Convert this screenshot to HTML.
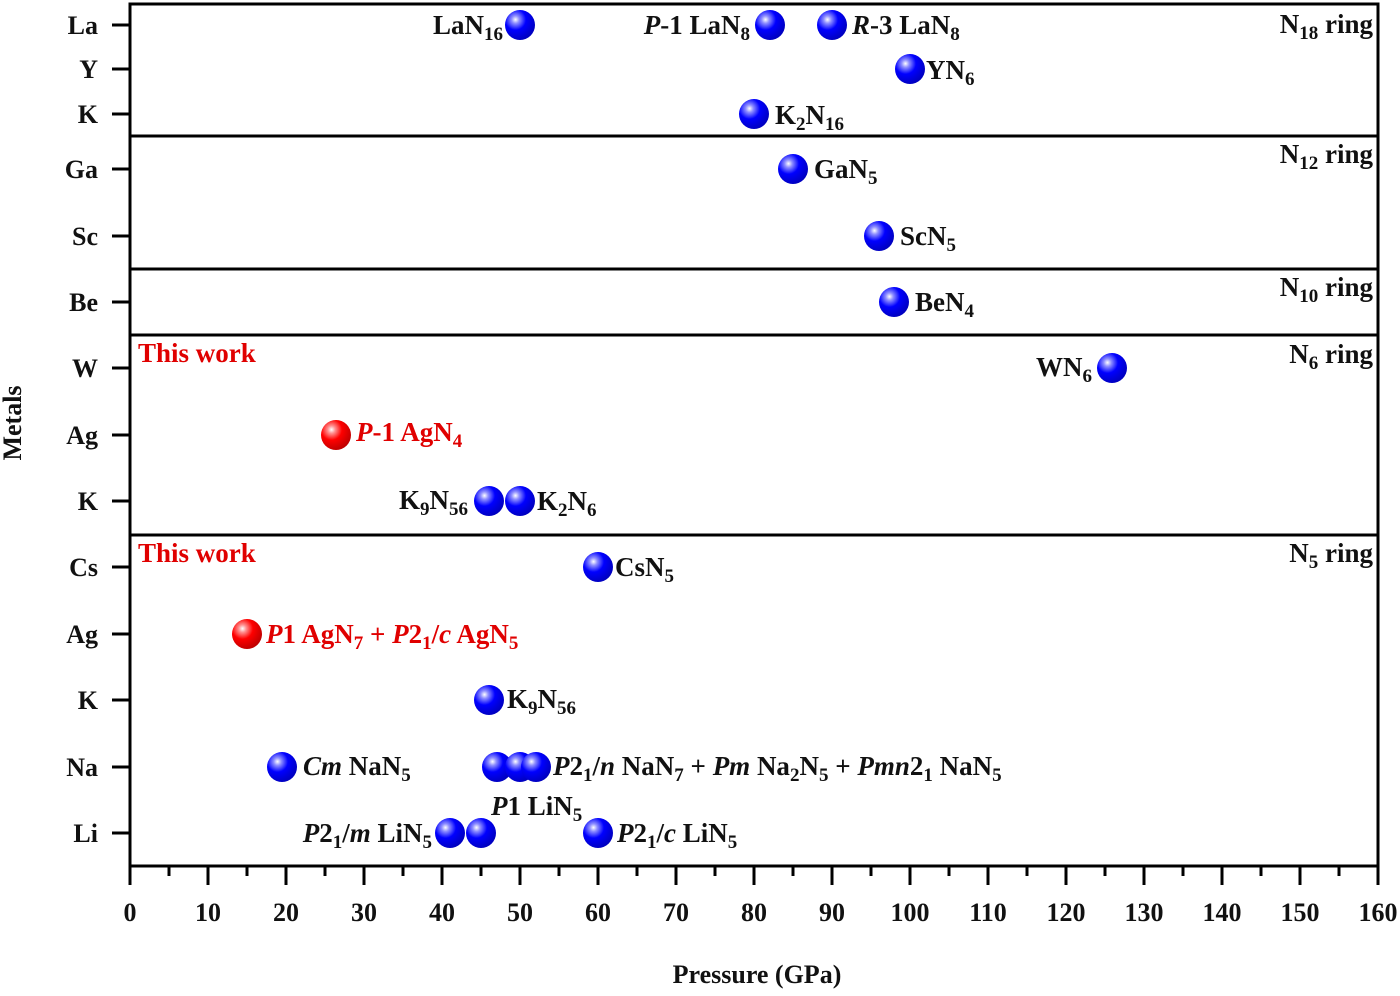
<!DOCTYPE html>
<html><head><meta charset="utf-8"><style>
html,body{margin:0;padding:0;background:#fff}
svg text{font-family:"Liberation Serif",serif;font-weight:bold;font-size:26px;fill:#111}
svg .lab text{font-size:27px}
.r{fill:#e00000 !important}
</style></head><body>
<svg width="1400" height="991" xmlns="http://www.w3.org/2000/svg">
<defs>
<radialGradient id="b" cx="0.35" cy="0.32" r="0.7">
<stop offset="0" stop-color="#ffffff"/><stop offset="0.18" stop-color="#8f8fff"/><stop offset="0.5" stop-color="#0000ff"/><stop offset="1" stop-color="#0000c0"/></radialGradient>
<radialGradient id="rd" cx="0.35" cy="0.32" r="0.7">
<stop offset="0" stop-color="#ffffff"/><stop offset="0.18" stop-color="#ff9090"/><stop offset="0.5" stop-color="#ff0000"/><stop offset="1" stop-color="#c00000"/></radialGradient>
</defs>
<g stroke="#000" stroke-width="3" fill="none">
<rect x="130" y="4" width="1248" height="862"/>
<line x1="130" y1="136" x2="1378" y2="136"/>
<line x1="130" y1="269" x2="1378" y2="269"/>
<line x1="130" y1="335" x2="1378" y2="335"/>
<line x1="130" y1="535" x2="1378" y2="535"/>
</g>
<g stroke="#000" stroke-width="3">
<line x1="112" y1="25" x2="130" y2="25"/><line x1="112" y1="69" x2="130" y2="69"/><line x1="112" y1="114" x2="130" y2="114"/>
<line x1="112" y1="169" x2="130" y2="169"/><line x1="112" y1="236" x2="130" y2="236"/><line x1="112" y1="302" x2="130" y2="302"/>
<line x1="112" y1="368" x2="130" y2="368"/><line x1="112" y1="435" x2="130" y2="435"/><line x1="112" y1="501" x2="130" y2="501"/>
<line x1="112" y1="567" x2="130" y2="567"/><line x1="112" y1="634" x2="130" y2="634"/><line x1="112" y1="700" x2="130" y2="700"/>
<line x1="112" y1="767" x2="130" y2="767"/><line x1="112" y1="833" x2="130" y2="833"/>
</g>
<g stroke="#000" stroke-width="3">
<line x1="130" y1="866" x2="130" y2="885"/><line x1="169" y1="866" x2="169" y2="876"/><line x1="208" y1="866" x2="208" y2="885"/><line x1="247" y1="866" x2="247" y2="876"/><line x1="286" y1="866" x2="286" y2="885"/><line x1="325" y1="866" x2="325" y2="876"/><line x1="364" y1="866" x2="364" y2="885"/><line x1="403" y1="866" x2="403" y2="876"/><line x1="442" y1="866" x2="442" y2="885"/><line x1="481" y1="866" x2="481" y2="876"/><line x1="520" y1="866" x2="520" y2="885"/><line x1="559" y1="866" x2="559" y2="876"/><line x1="598" y1="866" x2="598" y2="885"/><line x1="637" y1="866" x2="637" y2="876"/><line x1="676" y1="866" x2="676" y2="885"/><line x1="715" y1="866" x2="715" y2="876"/><line x1="754" y1="866" x2="754" y2="885"/><line x1="793" y1="866" x2="793" y2="876"/><line x1="832" y1="866" x2="832" y2="885"/><line x1="871" y1="866" x2="871" y2="876"/><line x1="910" y1="866" x2="910" y2="885"/><line x1="949" y1="866" x2="949" y2="876"/><line x1="988" y1="866" x2="988" y2="885"/><line x1="1027" y1="866" x2="1027" y2="876"/><line x1="1066" y1="866" x2="1066" y2="885"/><line x1="1105" y1="866" x2="1105" y2="876"/><line x1="1144" y1="866" x2="1144" y2="885"/><line x1="1183" y1="866" x2="1183" y2="876"/><line x1="1222" y1="866" x2="1222" y2="885"/><line x1="1261" y1="866" x2="1261" y2="876"/><line x1="1300" y1="866" x2="1300" y2="885"/><line x1="1339" y1="866" x2="1339" y2="876"/><line x1="1378" y1="866" x2="1378" y2="885"/>
</g>
<g text-anchor="middle">
<text x="130" y="921">0</text><text x="208" y="921">10</text><text x="286" y="921">20</text><text x="364" y="921">30</text><text x="442" y="921">40</text><text x="520" y="921">50</text><text x="598" y="921">60</text><text x="676" y="921">70</text><text x="754" y="921">80</text><text x="832" y="921">90</text><text x="910" y="921">100</text><text x="988" y="921">110</text><text x="1066" y="921">120</text><text x="1144" y="921">130</text><text x="1222" y="921">140</text><text x="1300" y="921">150</text><text x="1378" y="921">160</text>
<text x="757" y="983">Pressure (GPa)</text>
<text transform="translate(21,423) rotate(-90)">Metals</text>
</g>
<g text-anchor="end">
<text x="98" y="34">La</text><text x="98" y="78">Y</text><text x="98" y="123">K</text><text x="98" y="178">Ga</text><text x="98" y="245">Sc</text><text x="98" y="311">Be</text><text x="98" y="377">W</text><text x="98" y="444">Ag</text><text x="98" y="510">K</text><text x="98" y="576">Cs</text><text x="98" y="643">Ag</text><text x="98" y="709">K</text><text x="98" y="776">Na</text><text x="98" y="842">Li</text>
</g>
<g>
<circle cx="520" cy="25" r="15" fill="url(#b)"/><circle cx="770" cy="25" r="15" fill="url(#b)"/><circle cx="832" cy="25" r="15" fill="url(#b)"/>
<circle cx="910" cy="69" r="15" fill="url(#b)"/><circle cx="754" cy="114" r="15" fill="url(#b)"/>
<circle cx="793" cy="169" r="15" fill="url(#b)"/><circle cx="879" cy="236" r="15" fill="url(#b)"/><circle cx="894" cy="302" r="15" fill="url(#b)"/>
<circle cx="1112" cy="368" r="15" fill="url(#b)"/><circle cx="336" cy="435" r="15" fill="url(#rd)"/>
<circle cx="489" cy="501" r="15" fill="url(#b)"/><circle cx="520" cy="501" r="15" fill="url(#b)"/>
<circle cx="598" cy="567" r="15" fill="url(#b)"/><circle cx="247" cy="634" r="15" fill="url(#rd)"/>
<circle cx="489" cy="700" r="15" fill="url(#b)"/>
<circle cx="282" cy="767" r="15" fill="url(#b)"/><circle cx="497" cy="767" r="15" fill="url(#b)"/><circle cx="520" cy="767" r="15" fill="url(#b)"/><circle cx="536" cy="767" r="15" fill="url(#b)"/>
<circle cx="450" cy="833" r="15" fill="url(#b)"/><circle cx="481" cy="833" r="15" fill="url(#b)"/><circle cx="598" cy="833" r="15" fill="url(#b)"/>
</g>
<g class="lab">
<text x="503" y="34" text-anchor="end">LaN<tspan font-size="19" dy="6">16</tspan></text>
<text x="750" y="34" text-anchor="end"><tspan font-style="italic">P</tspan>-1 LaN<tspan font-size="19" dy="6">8</tspan></text>
<text x="852" y="34"><tspan font-style="italic">R</tspan>-3 LaN<tspan font-size="19" dy="6">8</tspan></text>
<text x="1373" y="33" text-anchor="end">N<tspan font-size="19" dy="6">18</tspan><tspan dy="-6"> ring</tspan></text>
<text x="926" y="79">YN<tspan font-size="19" dy="6">6</tspan></text>
<text x="775" y="124">K<tspan font-size="19" dy="6">2</tspan><tspan dy="-6">N</tspan><tspan font-size="19" dy="6">16</tspan></text>
<text x="814" y="178">GaN<tspan font-size="19" dy="6">5</tspan></text>
<text x="1373" y="163" text-anchor="end">N<tspan font-size="19" dy="6">12</tspan><tspan dy="-6"> ring</tspan></text>
<text x="900" y="245">ScN<tspan font-size="19" dy="6">5</tspan></text>
<text x="915" y="311">BeN<tspan font-size="19" dy="6">4</tspan></text>
<text x="1373" y="296" text-anchor="end">N<tspan font-size="19" dy="6">10</tspan><tspan dy="-6"> ring</tspan></text>
<text x="138" y="362" class="r">This work</text>
<text x="1373" y="363" text-anchor="end">N<tspan font-size="19" dy="6">6</tspan><tspan dy="-6"> ring</tspan></text>
<text x="1092" y="376" text-anchor="end">WN<tspan font-size="19" dy="6">6</tspan></text>
<text x="356" y="441" class="r"><tspan font-style="italic">P</tspan>-1 AgN<tspan font-size="19" dy="6">4</tspan></text>
<text x="468" y="509" text-anchor="end">K<tspan font-size="19" dy="6">9</tspan><tspan dy="-6">N</tspan><tspan font-size="19" dy="6">56</tspan></text>
<text x="537" y="510">K<tspan font-size="19" dy="6">2</tspan><tspan dy="-6">N</tspan><tspan font-size="19" dy="6">6</tspan></text>
<text x="138" y="562" class="r">This work</text>
<text x="1373" y="562" text-anchor="end">N<tspan font-size="19" dy="6">5</tspan><tspan dy="-6"> ring</tspan></text>
<text x="615" y="576">CsN<tspan font-size="19" dy="6">5</tspan></text>
<text x="266" y="643" class="r"><tspan font-style="italic">P</tspan>1 AgN<tspan font-size="19" dy="6">7</tspan><tspan dy="-6"> + </tspan><tspan font-style="italic">P</tspan>2<tspan font-size="19" dy="6">1</tspan><tspan dy="-6">/</tspan><tspan font-style="italic">c</tspan> AgN<tspan font-size="19" dy="6">5</tspan></text>
<text x="507" y="708">K<tspan font-size="19" dy="6">9</tspan><tspan dy="-6">N</tspan><tspan font-size="19" dy="6">56</tspan></text>
<text x="303" y="775"><tspan font-style="italic">Cm</tspan> NaN<tspan font-size="19" dy="6">5</tspan></text>
<text x="553" y="775"><tspan font-style="italic">P</tspan>2<tspan font-size="19" dy="6">1</tspan><tspan dy="-6">/</tspan><tspan font-style="italic">n</tspan> NaN<tspan font-size="19" dy="6">7</tspan><tspan dy="-6"> + </tspan><tspan font-style="italic">Pm</tspan> Na<tspan font-size="19" dy="6">2</tspan><tspan dy="-6">N</tspan><tspan font-size="19" dy="6">5</tspan><tspan dy="-6"> + </tspan><tspan font-style="italic">Pmn</tspan>2<tspan font-size="19" dy="6">1</tspan><tspan dy="-6"> NaN</tspan><tspan font-size="19" dy="6">5</tspan></text>
<text x="491" y="815"><tspan font-style="italic">P</tspan>1 LiN<tspan font-size="19" dy="6">5</tspan></text>
<text x="432" y="842" text-anchor="end"><tspan font-style="italic">P</tspan>2<tspan font-size="19" dy="6">1</tspan><tspan dy="-6">/</tspan><tspan font-style="italic">m</tspan> LiN<tspan font-size="19" dy="6">5</tspan></text>
<text x="617" y="842"><tspan font-style="italic">P</tspan>2<tspan font-size="19" dy="6">1</tspan><tspan dy="-6">/</tspan><tspan font-style="italic">c</tspan> LiN<tspan font-size="19" dy="6">5</tspan></text>
</g>
</svg>
</body></html>
